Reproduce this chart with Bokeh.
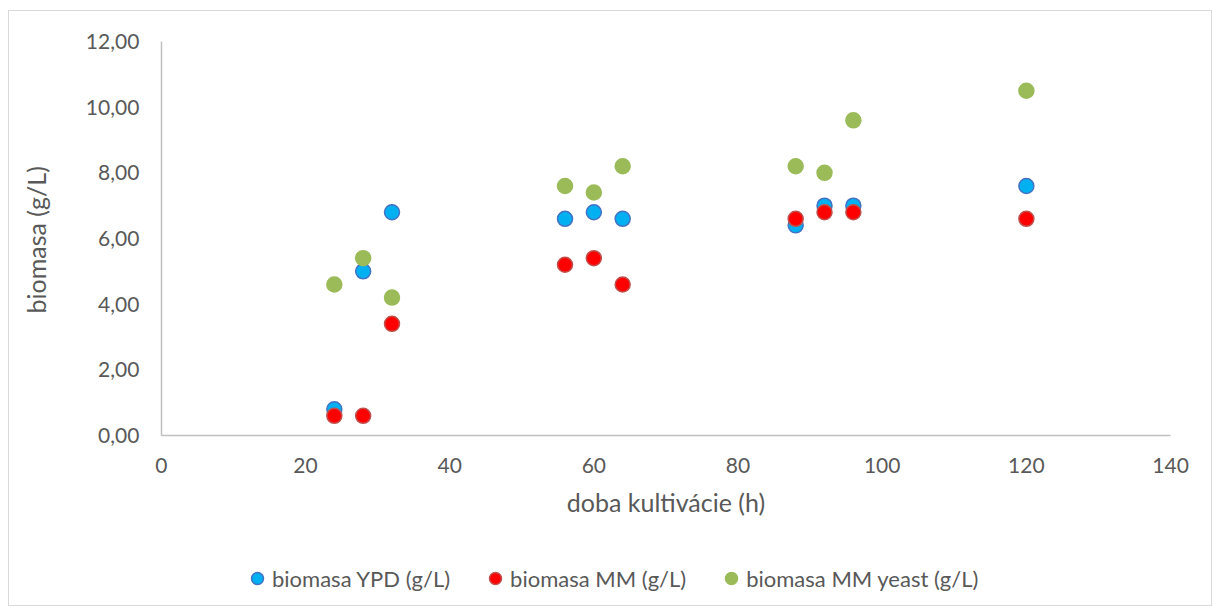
from bokeh.plotting import figure
from bokeh.models import CustomJSTickFormatter, FixedTicker, Legend, LegendItem, LinearAxis, Range1d, Title
from bokeh.embed import file_html
from bokeh.resources import INLINE

hours = [24, 28, 32, 56, 60, 64, 88, 92, 96, 120]
ypd = [0.8, 5.0, 6.8, 6.6, 6.8, 6.6, 6.4, 7.0, 7.0, 7.6]
mm = [0.6, 0.6, 3.4, 5.2, 5.4, 4.6, 6.6, 6.8, 6.8, 6.6]
mm_yeast = [4.6, 5.4, 4.2, 7.6, 7.4, 8.2, 8.2, 8.0, 9.6, 10.5]
x_ticks = [0, 20, 40, 60, 80, 100, 120, 140]
y_ticks = [0, 2, 4, 6, 8, 10, 12]
labels = ["biomasa YPD (g/L)", "biomasa MM (g/L)", "biomasa MM yeast (g/L)"]
x_title = "doba kultivácie (h)"
y_title = "biomasa (g/L)"

FONT = "Lato"
GREY = "#595959"
AXIS_GREY = "#BFBFBF"

# The frame reaches beyond the axes so that the tick labels and the legend
# can be drawn inside it; the axes themselves sit at x = 0 and y = 0.
X_MIN, X_MAX = 0, 140
Y_MIN, Y_MAX = 0, 12
PX_X = 1011 / (X_MAX - X_MIN)
PX_Y = 394 / (Y_MAX - Y_MIN)
X_LO = X_MIN - 100 / PX_X
X_HI = X_MAX + 22 / PX_X
Y_LO = Y_MIN - 168 / PX_Y
Y_HI = Y_MAX + 16 / PX_Y

p = figure(width=1204, height=596, output_backend="svg", toolbar_location=None,
           x_range=Range1d(X_LO, X_HI), y_range=Range1d(Y_LO, Y_HI),
           y_axis_location=None,
           min_border_left=50, min_border_right=21, min_border_top=14, min_border_bottom=4)
p.styles = {"border": "1px solid #D9D9D9", "margin": "10px 0 0 8px"}
p.outline_line_color = None
p.xgrid.grid_line_color = None
p.ygrid.grid_line_color = None

def style_axis(ax):
    ax.axis_line_color = AXIS_GREY
    ax.axis_line_width = 1.5
    ax.major_tick_line_color = None
    ax.minor_tick_line_color = None
    ax.major_tick_out = 0
    ax.major_label_text_font = FONT
    ax.major_label_text_font_size = "21px"
    ax.major_label_text_color = GREY
    ax.axis_label_text_font = FONT
    ax.axis_label_text_font_size = "25px"
    ax.axis_label_text_color = GREY
    ax.axis_label_text_font_style = "normal"

xa = p.xaxis[0]
style_axis(xa)
xa.fixed_location = 0
xa.bounds = (X_MIN, X_MAX)
xa.ticker = FixedTicker(ticks=x_ticks)
xa.axis_label = x_title
xa.major_label_standoff = 22
xa.axis_label_standoff = 11

ya = LinearAxis(fixed_location=0, bounds=(Y_MIN, Y_MAX), ticker=FixedTicker(ticks=y_ticks),
                formatter=CustomJSTickFormatter(code="return tick.toFixed(2).replace('.', ',');"))
style_axis(ya)
ya.major_label_standoff = 22
p.add_layout(ya, "left")

p.add_layout(Title(text=y_title, align="left", offset=290, standoff=20,
                   vertical_align="middle",
                   text_font=FONT, text_font_size="25px", text_color=GREY,
                   text_font_style="normal"), "left")

r1 = p.scatter(hours, ypd, size=15, fill_color="#00B0F0", line_color="#4472C4", line_width=1.5)
r2 = p.scatter(hours, mm, size=15, fill_color="#FF0000", line_color="#C0504D", line_width=1.5)
r3 = p.scatter(hours, mm_yeast, size=15, fill_color="#9BBB59", line_color="#9BBB59", line_width=1.5)

legend = Legend(items=[LegendItem(label=labels[0], renderers=[r1]),
                       LegendItem(label=labels[1], renderers=[r2]),
                       LegendItem(label=labels[2], renderers=[r3])],
                orientation="horizontal", location=(181, 9),
                label_text_font=FONT, label_text_font_size="22px", label_text_color=GREY,
                glyph_width=30, glyph_height=32, label_standoff=-2, spacing=30,
                padding=0, margin=0, border_line_color=None, background_fill_alpha=0)
p.add_layout(legend, "center")

open("out.html", "w").write(file_html(p, INLINE))
